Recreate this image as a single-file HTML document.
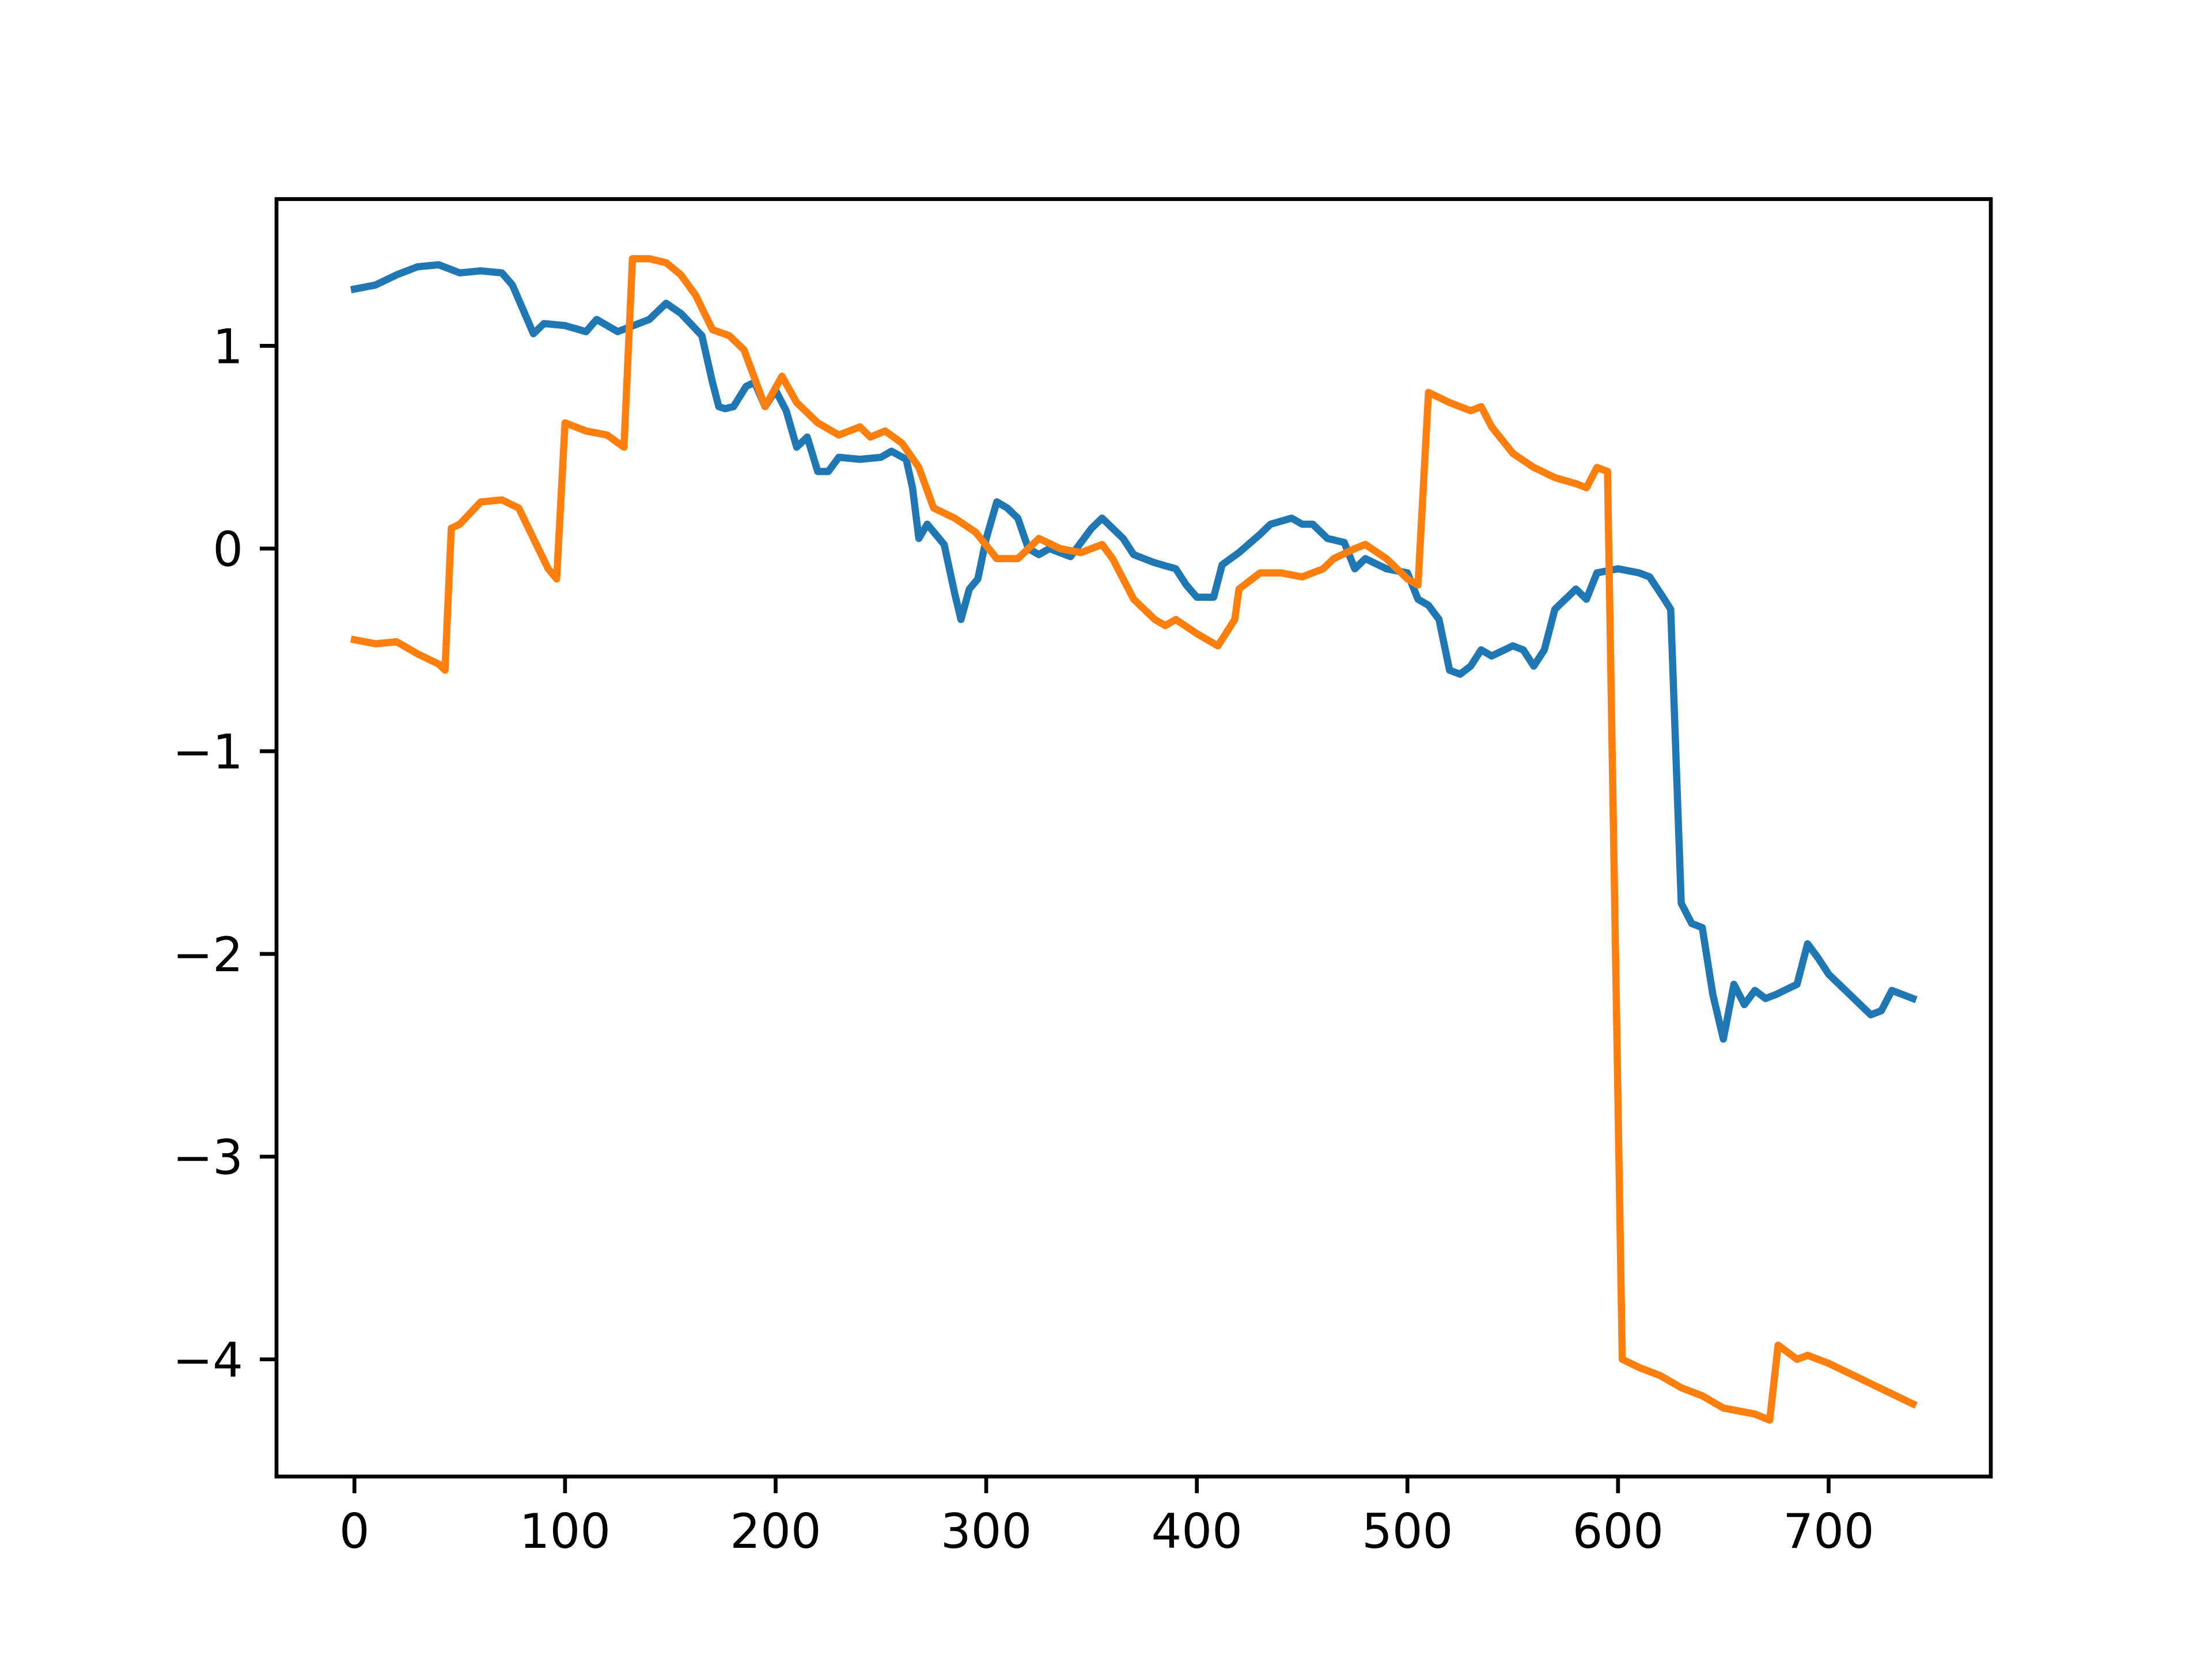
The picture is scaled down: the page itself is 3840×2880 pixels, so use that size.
<!DOCTYPE html>
<html><head><meta charset="utf-8"><style>html,body{margin:0;padding:0;background:#fff}svg{display:block}</style></head>
<body>
<svg id="chart" width="3840" height="2880" xmlns="http://www.w3.org/2000/svg" font-family="'DejaVu Sans','Liberation Sans',sans-serif">
<rect width="3840" height="2880" fill="#fff"/>
<g id="plot"></g>
</svg>
<script>
const xTicks = [0,100,200,300,400,500,600,700];
const yTicks = [1,0,-1,-2,-3,-4];
const blueX = [0,10,20,30,40,50,60,70,75,80,85,90,100,110,115,125,130,140,148,155,165,170,173,176,180,186,190,195,200,205,210,215,220,225,230,240,250,255,262,265,268,272,280,285,288,292,296,300,305,310,315,320,325,330,340,350,355,365,370,380,390,395,400,408,412,420,430,435,445,450,455,462,470,475,480,490,500,505,510,515,520,525,530,535,540,550,555,560,565,570,580,585,590,600,610,615,622,625,630,635,640,645,650,655,660,665,670,675,685,690,695,700,710,720,725,730,740];
const blueY = [1.28,1.30,1.35,1.39,1.40,1.36,1.37,1.36,1.30,1.18,1.06,1.11,1.10,1.07,1.13,1.07,1.09,1.13,1.21,1.16,1.05,0.82,0.70,0.69,0.70,0.80,0.82,0.70,0.78,0.68,0.50,0.55,0.38,0.38,0.45,0.44,0.45,0.48,0.44,0.30,0.05,0.12,0.02,-0.22,-0.35,-0.20,-0.15,0.05,0.23,0.20,0.15,0.0,-0.03,0.0,-0.04,0.10,0.15,0.05,-0.03,-0.07,-0.10,-0.18,-0.24,-0.24,-0.08,-0.02,0.07,0.12,0.15,0.12,0.12,0.05,0.03,-0.10,-0.05,-0.10,-0.12,-0.25,-0.28,-0.35,-0.60,-0.62,-0.58,-0.50,-0.53,-0.48,-0.50,-0.58,-0.50,-0.30,-0.20,-0.25,-0.12,-0.10,-0.12,-0.14,-0.25,-0.30,-1.75,-1.85,-1.87,-2.20,-2.42,-2.15,-2.25,-2.18,-2.22,-2.20,-2.15,-1.95,-2.02,-2.10,-2.20,-2.30,-2.28,-2.18,-2.22];
const orangeX = [0,10,20,30,40,43,46,50,60,70,78,85,92,96,100,110,120,128,132,140,148,155,162,170,178,185,195,203,210,220,230,240,245,252,260,268,275,285,295,305,315,325,335,345,355,360,370,380,385,390,400,410,418,420,430,440,450,460,465,475,480,490,500,505,510,520,530,535,540,550,560,570,580,585,590,595,602,610,620,630,640,650,665,672,676,685,690,700,710,720,730,740];
const orangeY = [-0.45,-0.47,-0.46,-0.52,-0.57,-0.60,0.10,0.12,0.23,0.24,0.20,0.05,-0.10,-0.15,0.62,0.58,0.56,0.50,1.43,1.43,1.41,1.35,1.25,1.08,1.05,0.98,0.70,0.85,0.72,0.62,0.56,0.60,0.55,0.58,0.52,0.40,0.20,0.15,0.08,-0.05,-0.05,0.05,0.0,-0.02,0.02,-0.05,-0.25,-0.35,-0.38,-0.35,-0.42,-0.48,-0.35,-0.20,-0.12,-0.12,-0.14,-0.10,-0.05,0.00,0.02,-0.05,-0.15,-0.18,0.77,0.72,0.68,0.70,0.60,0.47,0.40,0.35,0.32,0.30,0.40,0.38,-4.00,-4.04,-4.08,-4.14,-4.18,-4.24,-4.27,-4.30,-3.93,-4.00,-3.98,-4.02,-4.07,-4.12,-4.17,-4.22];

const L=480,R=3456,T=345.6,B=2563.2;
const xmin=-37,xmax=777,ymin=-4.578,ymax=1.724;
const sx=v=>L+(v-xmin)/(xmax-xmin)*(R-L);
const sy=v=>B-(v-ymin)/(ymax-ymin)*(B-T);
const NS="http://www.w3.org/2000/svg";
const g=document.getElementById('plot');
function mk(t,a){const e=document.createElementNS(NS,t);for(const k in a)e.setAttribute(k,a[k]);g.appendChild(e);return e;}
function line(xs,ys,color,name){
  const p=mk('polyline',{points:xs.map((x,i)=>sx(x).toFixed(1)+','+sy(ys[i]).toFixed(1)).join(' '),fill:'none',stroke:color,'stroke-width':12.5,'stroke-linejoin':'round','stroke-linecap':'square'});
  
  
}
line(blueX,blueY,'#1f77b4','series-blue-line');
line(orangeX,orangeY,'#ff7f0e','series-orange-line');
const fmt=v=>v<0?'\u2212'+(-v):String(v);
xTicks.forEach(v=>{
  const t=mk('line',{x1:sx(v),x2:sx(v),y1:B,y2:B+29,stroke:'#000','stroke-width':6.7});
  
  
  const l=mk('text',{x:sx(v),y:B+58+66,'font-size':83,'text-anchor':'middle',fill:'#000'});
  l.textContent=fmt(v);
  
  
});
yTicks.forEach(v=>{
  const t=mk('line',{x1:L-29,x2:L,y1:sy(v),y2:sy(v),stroke:'#000','stroke-width':6.7});
  
  
  const l=mk('text',{x:L-58,y:sy(v)+30,'font-size':83,'text-anchor':'end',fill:'#000'});
  l.textContent=fmt(v);
  
  
});
const f=mk('rect',{x:L,y:T,width:R-L,height:B-T,fill:'none',stroke:'#000','stroke-width':6.7});


</script>
</body></html>
